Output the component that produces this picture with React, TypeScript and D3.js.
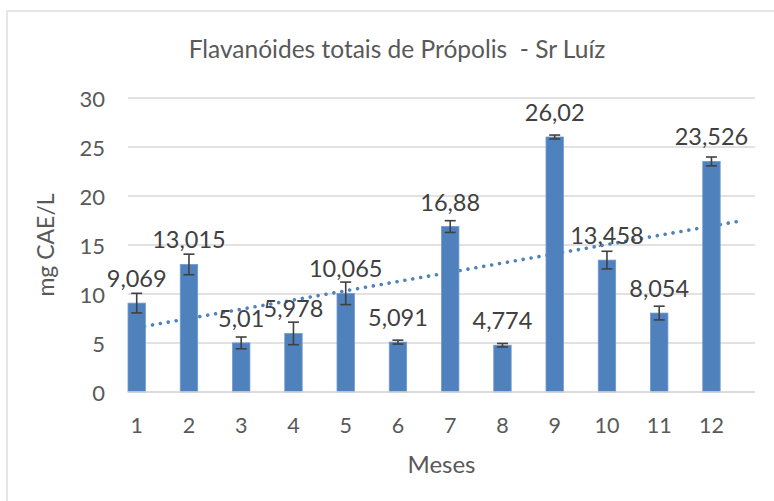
import React from "react";
import * as d3 from "d3";

const months = ["1", "2", "3", "4", "5", "6", "7", "8", "9", "10", "11", "12"];
const values = [9.069, 13.015, 5.01, 5.978, 10.065, 5.091, 16.88, 4.774, 26.02, 13.458, 8.054, 23.526];
const labels = ["9,069", "13,015", "5,01", "5,978", "10,065", "5,091", "16,88", "4,774", "26,02", "13,458", "8,054", "23,526"];
const errors = [1.0, 1.05, 0.6, 1.15, 1.15, 0.2, 0.6, 0.18, 0.2, 0.9, 0.7, 0.45];
const yTicks = [0, 5, 10, 15, 20, 25, 30];

const W = 774;
const H = 501;
const FONT = "Lato, 'Open Sans', sans-serif";
const TXT = "#595959";
const BAR = "#4f81bd";

export default function App() {
  const left = 128;
  const right = 755;
  const top = 98;
  const bottom = 392;

  const x = d3.scaleBand<string>().domain(months).range([left, right]).paddingInner(0).paddingOuter(0);
  const bw = x.bandwidth();
  const barW = bw / 3;
  const cx = (m: string) => (x(m) as number) + barW / 2;
  const y = d3.scaleLinear().domain([0, 30]).range([bottom, top]);

  // linear trendline (least squares on month index)
  const xs = values.map((_, i) => i + 1);
  const mx = d3.mean(xs) as number;
  const my = d3.mean(values) as number;
  const sxy = d3.sum(xs, (xi, i) => (xi - mx) * (values[i] - my));
  const sxx = d3.sum(xs, (xi) => (xi - mx) * (xi - mx));
  const slope = sxy / sxx;
  const icpt = my - slope * mx;
  const xPos = d3.scaleLinear().domain([1, 12]).range([cx(months[0]), cx(months[11])]);
  const tStart = 1;
  const tEnd = 12.55;
  const line = d3.line<number>().x((t) => xPos(t)).y((t) => y(icpt + slope * t));

  return (
    <svg width={W} height={H} style={{ position: "absolute", left: 0, top: 0, background: "#fff" }} fontFamily={FONT}>
      <rect x={0} y={0} width={W} height={H} fill="#fff" />
      <rect x={7} y={11} width={900} height={700} fill="#fff" stroke="#d9d9d9" strokeWidth={1.3} />
      <text x={397} y={48} textAnchor="middle" dominantBaseline="central" fontSize={24.5} fill={TXT} style={{ whiteSpace: "pre" }}>
        {"Flavanóides totais de Própolis  - Sr Luíz"}
      </text>
      {yTicks.map((t) => (
        <g key={t}>
          <line x1={left} x2={right} y1={y(t)} y2={y(t)} stroke="#d9d9d9" strokeWidth={1.3} />
          <text x={105} y={y(t)} textAnchor="end" dominantBaseline="central" fontSize={22} fill={TXT}>
            {t}
          </text>
        </g>
      ))}
      <path d={line([tStart, tEnd]) || ""} fill="none" stroke={BAR} strokeWidth={3.6} strokeDasharray="0.01 8" strokeLinecap="round" />
      {months.map((m, i) => (
        <g key={m}>
          <rect x={x(m)} y={y(values[i])} width={barW} height={bottom - y(values[i])} fill={BAR} stroke="#6f9ad0" strokeWidth={0.8} />
          <line x1={cx(m)} x2={cx(m)} y1={y(values[i] + errors[i])} y2={y(values[i] - errors[i])} stroke="#404040" strokeWidth={1.6} />
          <line x1={cx(m) - 5.5} x2={cx(m) + 5.5} y1={y(values[i] + errors[i])} y2={y(values[i] + errors[i])} stroke="#404040" strokeWidth={1.6} />
          <line x1={cx(m) - 5.5} x2={cx(m) + 5.5} y1={y(values[i] - errors[i])} y2={y(values[i] - errors[i])} stroke="#404040" strokeWidth={1.6} />
          <text x={cx(m)} y={y(values[i]) - 25} textAnchor="middle" dominantBaseline="central" fontSize={23.5} fill="#404040">
            {labels[i]}
          </text>
          <text x={cx(m)} y={425} textAnchor="middle" dominantBaseline="central" fontSize={21.5} fill={TXT}>
            {m}
          </text>
        </g>
      ))}
      <line x1={left} x2={right} y1={bottom} y2={bottom} stroke="#d9d9d9" strokeWidth={1.3} />
      <text x={(left + right) / 2} y={463} textAnchor="middle" dominantBaseline="central" fontSize={24} fill={TXT}>
        Meses
      </text>
      <text transform={`translate(45, ${(top + bottom) / 2}) rotate(-90)`} textAnchor="middle" dominantBaseline="central" fontSize={23} fill={TXT}>
        mg CAE/L
      </text>
    </svg>
  );
}
